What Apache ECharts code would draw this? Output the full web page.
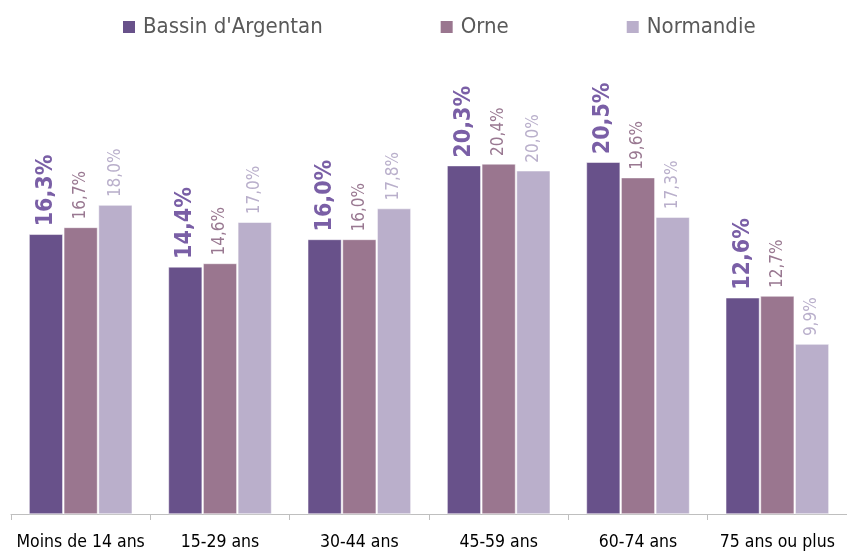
<!DOCTYPE html>
<html>
<head>
<meta charset="utf-8">
<script src="https://cdn.jsdelivr.net/npm/echarts@6/dist/echarts.min.js"></script>
<style>html,body{margin:0;padding:0;background:#fff}#c{width:847px;height:551px}</style>
</head>
<body>
<div id="c"></div>
<script>
const categories = ["Moins de 14 ans", "15-29 ans", "30-44 ans", "45-59 ans", "60-74 ans", "75 ans ou plus"];
const seriesNames = ["Bassin d'Argentan", "Orne", "Normandie"];
const argentan = [16.3, 14.4, 16.0, 20.3, 20.5, 12.6];
const orne = [16.7, 14.6, 16.0, 20.4, 19.6, 12.7];
const normandie = [18.0, 17.0, 17.8, 20.0, 17.3, 9.9];

const FONT = "'Liberation Sans Narrow', 'DejaVu Sans Condensed', sans-serif";
const barColors = ['#68518A', '#9A768F', '#BAAFCB'];
const labelColors = ['#7A5FA6', '#997891', '#B9AFCB'];
const fmt = p => p.value.toFixed(1).replace('.', ',') + '%';

function mkSeries(name, data, i) {
  return {
    name, type: 'bar', data,
    barGap: '3%', barCategoryGap: '26%',
    itemStyle: { color: barColors[i], borderColor: '#fff', borderWidth: 0.5 },
    label: {
      show: true, position: 'top', rotate: 90, align: 'left', verticalAlign: 'middle',
      distance: 8, formatter: fmt, color: labelColors[i],
      fontFamily: FONT, fontSize: i === 0 ? 23 : 17, fontWeight: i === 0 ? 'bold' : 'normal'
    }
  };
}

const chart = echarts.init(document.getElementById('c'), null, { renderer: 'canvas' });
chart.setOption({
  animation: false,
  legend: {
    top: 11, left: 116, itemWidth: 14, itemHeight: 14, itemGap: 116,
    icon: 'rect',
    textStyle: { fontFamily: FONT, fontSize: 22, color: '#595959', padding: [0, 0, 0, 2] },
    data: seriesNames
  },
  grid: { left: 11, width: 846, top: 85, bottom: 34 },
  xAxis: {
    type: 'category', data: categories,
    axisLine: { lineStyle: { color: '#BFBFBF', width: 1 } },
    axisTick: { show: true, length: 6, lineStyle: { color: '#BFBFBF' } },
    axisLabel: { interval: 0, fontFamily: FONT, fontSize: 17.5, color: '#000', margin: 19 }
  },
  yAxis: { type: 'value', min: 0, max: 25, show: false, splitLine: { show: false } },
  series: [mkSeries(seriesNames[0], argentan, 0), mkSeries(seriesNames[1], orne, 1), mkSeries(seriesNames[2], normandie, 2)]
});
</script>
</body>
</html>
